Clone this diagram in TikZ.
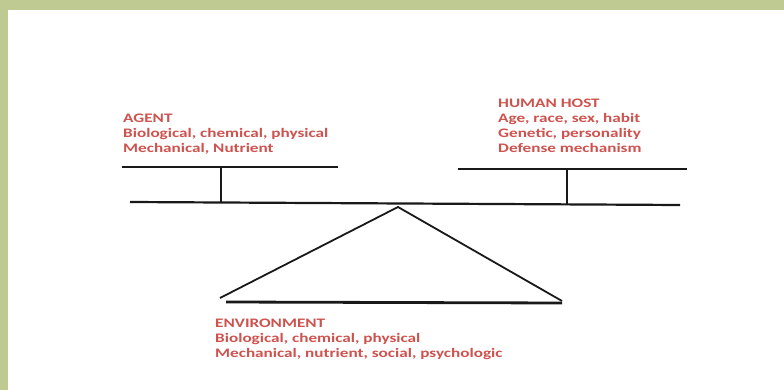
\documentclass[tikz,border=0pt]{standalone}
\usepackage{fontspec}
\setmainfont{Carlito}
\definecolor{frame}{RGB}{190,202,146}
\definecolor{lbl}{RGB}{206,82,78}
\definecolor{ink}{RGB}{25,25,25}
\newcommand{\lbltxt}[1]{\scalebox{1.32}[1]{\bfseries\fontsize{13}{15}\selectfont\begin{tabular}[t]{@{}l@{}}#1\end{tabular}}}
\begin{document}
\begin{tikzpicture}[x=1pt,y=-1pt,
  lbltext/.style={anchor=base west,inner sep=0pt,text=lbl},
  plank/.style={draw=ink,line width=1.1pt},
  beam/.style={draw=ink,line width=2.2pt},
  post/.style={draw=ink,line width=2pt},
  slant/.style={draw=ink,line width=1.8pt},
  base/.style={draw=ink,line width=2.8pt}]
\useasboundingbox (0,0) rectangle (784,390);
\fill[frame] (0,0) rectangle (784,390);
\fill[white] (8,10) rectangle (784,390);
% labels
\node[lbltext] (agent) at (123,123) {\lbltxt{AGENT\\Biological, chemical, physical\\Mechanical, Nutrient}};
\node[lbltext] (host) at (498,108) {\lbltxt{HUMAN HOST\\Age, race, sex, habit\\Genetic, personality\\Defense mechanism}};
\node[lbltext] (env) at (215,327) {\lbltxt{ENVIRONMENT\\Biological, chemical, physical\\Mechanical, nutrient, social, psychologic}};
% coordinates
\coordinate (apl) at (122,167);
\coordinate (apr) at (338,167);
\coordinate (apt) at (221,167);
\coordinate (apb) at (221,203);
\coordinate (hpl) at (458,169);
\coordinate (hpr) at (687,169);
\coordinate (hpt) at (567,169);
\coordinate (hpb) at (567,204);
\coordinate (bl) at (130,202);
\coordinate (br) at (680,205);
\coordinate (apex) at (398,207);
\coordinate (tl) at (220,298);
\coordinate (tr) at (562,301);
\coordinate (bsl) at (226,302);
\coordinate (bsr) at (562,303);
% drawing
\draw[plank] (apl) -- (apr);
\draw[plank] (hpl) -- (hpr);
\draw[post] (apt) -- (apb);
\draw[post] (hpt) -- (hpb);
\draw[beam] (bl) -- (br);
\draw[slant] (tl) -- (apex) -- (tr);
\draw[base] (bsl) -- (bsr);
\end{tikzpicture}
\end{document}
